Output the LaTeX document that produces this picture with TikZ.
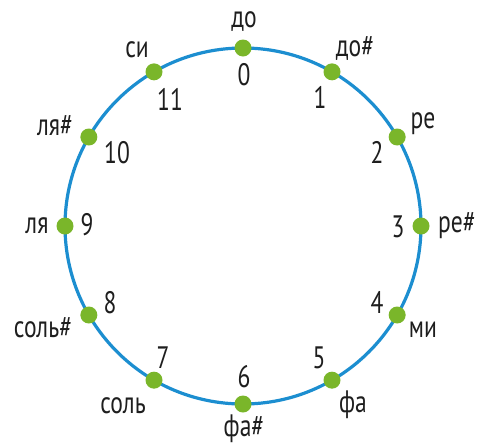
\documentclass[tikz,border=0pt]{standalone}
\usepackage{fontspec}
\setmainfont[FakeStretch=0.76]{PT Sans}
\definecolor{ring}{RGB}{28,142,208}
\definecolor{dotg}{RGB}{122,182,42}
\definecolor{txt}{RGB}{30,30,30}
\begin{document}
\begin{tikzpicture}[x=1pt,y=-1pt,
  dotn/.style={circle,fill=dotg,inner sep=0pt,minimum size=17pt},
  lab/.style={text=txt,font=\fontsize{31}{33}\selectfont,inner sep=0pt,anchor=base}]
\useasboundingbox (0,0) rectangle (478,445);
\coordinate (c) at (243,226);
\draw[ring,line width=3.2pt] (c) circle[radius=178];
\foreach \i in {0,...,11}{
  \node[dotn] (d\i) at ({243+178*cos(90-30*\i)},{226-178*sin(90-30*\i)}) {};
}
% note names
\node[lab] (n0) at (244,27) {до};
\node[lab] (n1) at (355,56) {до\#};
\node[lab] (n2) at (423,128) {ре};
\node[lab] (n3) at (457,232) {ре\#};
\node[lab] (n4) at (423,337) {ми};
\node[lab] (n5) at (353,412) {фа};
\node[lab] (n6) at (244,436) {фа\#};
\node[lab] (n7) at (123,413) {соль};
\node[lab] (n8) at (43,337) {соль\#};
\node[lab] (n9) at (37,233) {ля};
\node[lab] (n10) at (55,135) {ля\#};
\node[lab] (n11) at (137,57) {си};
% numbers
\node[lab] (k0) at (244,85) {0};
\node[lab] (k1) at (320,108) {1};
\node[lab] (k2) at (377,163) {2};
\node[lab] (k3) at (398,237) {3};
\node[lab] (k4) at (377,313) {4};
\node[lab] (k5) at (319,368) {5};
\node[lab] (k6) at (244,387) {6};
\node[lab] (k7) at (163,368) {7};
\node[lab] (k8) at (110,313) {8};
\node[lab] (k9) at (87,235) {9};
\node[lab] (k10) at (117,163) {10};
\node[lab] (k11) at (170,110) {11};
\end{tikzpicture}
\end{document}
